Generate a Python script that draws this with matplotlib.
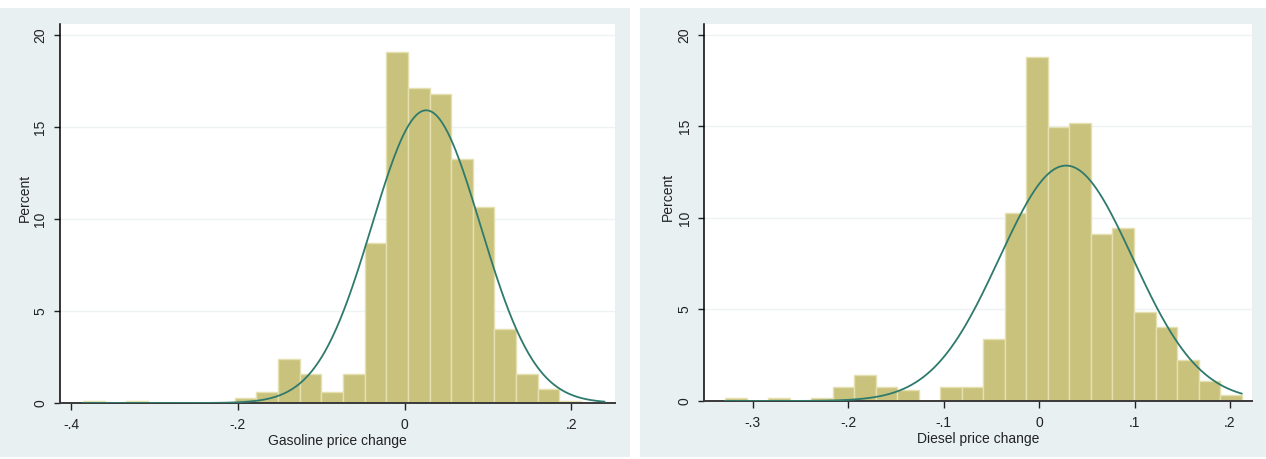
import numpy as np
import matplotlib
matplotlib.use("Agg")
import matplotlib.pyplot as plt
from matplotlib.patches import Rectangle

plt.rcParams['font.family'] = ['Liberation Sans', 'DejaVu Sans']

# ---------------- data ----------------
# Gasoline histogram (percent per bin)
gas_bin_start = -0.386
gas_bin_width = 0.026
gas_percent = [0.13, 0.0, 0.13, 0.0, 0.0, 0.0, 0.0, 0.25, 0.62, 2.39, 1.58, 0.58,
               1.58, 8.71, 19.06, 17.1, 16.8, 13.26, 10.63, 4.02, 1.58, 0.76, 0.1]
gas_mean = 0.026
gas_sd = 0.0652
gas_curve_range = (-0.386, 0.240)
gas_xticks = [-0.4, -0.2, 0.0, 0.2]
gas_xticklabels = ['-.4', '-.2', '0', '.2']
gas_xlabel = 'Gasoline price change'

# Diesel histogram (percent per bin)
dsl_bin_start = -0.3288
dsl_bin_width = 0.02254
dsl_percent = [0.15, 0.0, 0.15, 0.0, 0.15, 0.75, 1.4, 0.75, 0.6, 0.0, 0.75, 0.75,
               3.39, 10.25, 18.78, 14.99, 15.17, 9.1, 9.43, 4.85, 4.03, 2.24, 1.11, 0.33]
dsl_mean = 0.0283
dsl_sd = 0.0699
dsl_curve_range = (-0.3288, 0.2122)
dsl_xticks = [-0.3, -0.2, -0.1, 0.0, 0.1, 0.2]
dsl_xticklabels = ['-.3', '-.2', '-.1', '0', '.1', '.2']
dsl_xlabel = 'Diesel price change'

yticks = [0, 5, 10, 15, 20]
yticklabels = ['0', '5', '10', '15', '20']
ylabel = 'Percent'

# ---------------- style ----------------
W, H = 1266, 459
panel_bg = '#e8f0f2'
bar_face = '#c9c27c'
bar_edge = '#e4e0b0'
curve_col = '#2e7a6c'
grid_col = '#eef2f4'

fig = plt.figure(figsize=(W / 100, H / 100), dpi=100)
fig.patch.set_facecolor('white')


def px_rect(x0, y0, x1, y1):
    """convert pixel box (top-left origin) to figure fraction [l, b, w, h]"""
    return [x0 / W, 1 - y1 / H, (x1 - x0) / W, (y1 - y0) / H]


for (x0, y0, x1, y1) in [(0, 8, 630, 457), (640, 8, 1266, 457)]:
    l, b, w, h = px_rect(x0, y0, x1, y1)
    fig.patches.append(Rectangle((l, b), w, h, transform=fig.transFigure,
                                 facecolor=panel_bg, edgecolor='none', zorder=-10))


def draw(ax_box, start, width, perc, mean, sd, crange, xlim, xticks, xticklabels, xlabel,
         ylab_x):
    ax = fig.add_axes(px_rect(*ax_box))
    ax.set_zorder(5)
    ax.set_facecolor('white')
    n = len(perc)
    lefts = [start + i * width for i in range(n)]
    ax.bar(lefts, perc, width=width, align='edge', color=bar_face,
           edgecolor=bar_edge, linewidth=1.0, zorder=2)
    xs = np.linspace(crange[0], crange[1], 400)
    ys = 100 * width * np.exp(-0.5 * ((xs - mean) / sd) ** 2) / (sd * np.sqrt(2 * np.pi))
    ax.plot(xs, ys, color=curve_col, lw=1.3, zorder=3)
    ax.set_xlim(*xlim)
    ax.set_ylim(0, 20.6)
    ax.set_yticks(yticks)
    ax.set_yticklabels(yticklabels, rotation=90, va='center')
    ax.set_xticks(xticks)
    ax.set_xticklabels(xticklabels)
    ax.yaxis.grid(True, color=grid_col, lw=1.0, zorder=1)
    ax.set_axisbelow(True)
    for s in ['top', 'right']:
        ax.spines[s].set_visible(False)
    ax.spines['left'].set_color('black')
    ax.spines['left'].set_linewidth(1.1)
    ax.spines['bottom'].set_color('#3a3a3a')
    ax.spines['bottom'].set_linewidth(1.4)
    ax.tick_params(axis='y', length=4, width=1, pad=5, labelsize=10, colors='#222222')
    ax.tick_params(axis='x', length=5, width=1, pad=6, labelsize=10, colors='#222222')
    ax.set_xlabel(xlabel, fontsize=10, color='#222222', labelpad=1)
    ax.set_ylabel(ylabel, fontsize=10, color='#222222')
    ax.yaxis.set_label_coords(ylab_x, 0.54)
    return ax


draw((60, 24, 615, 403), gas_bin_start, gas_bin_width, gas_percent, gas_mean, gas_sd,
     gas_curve_range, (-0.4136, 0.2527), gas_xticks, gas_xticklabels, gas_xlabel,
     (32 - 60) / 555)
draw((704, 24, 1252, 401), dsl_bin_start, dsl_bin_width, dsl_percent, dsl_mean, dsl_sd,
     dsl_curve_range, (-0.3508, 0.2230), dsl_xticks, dsl_xticklabels, dsl_xlabel,
     (675 - 704) / 548)

fig.savefig('out.png', dpi=100)
